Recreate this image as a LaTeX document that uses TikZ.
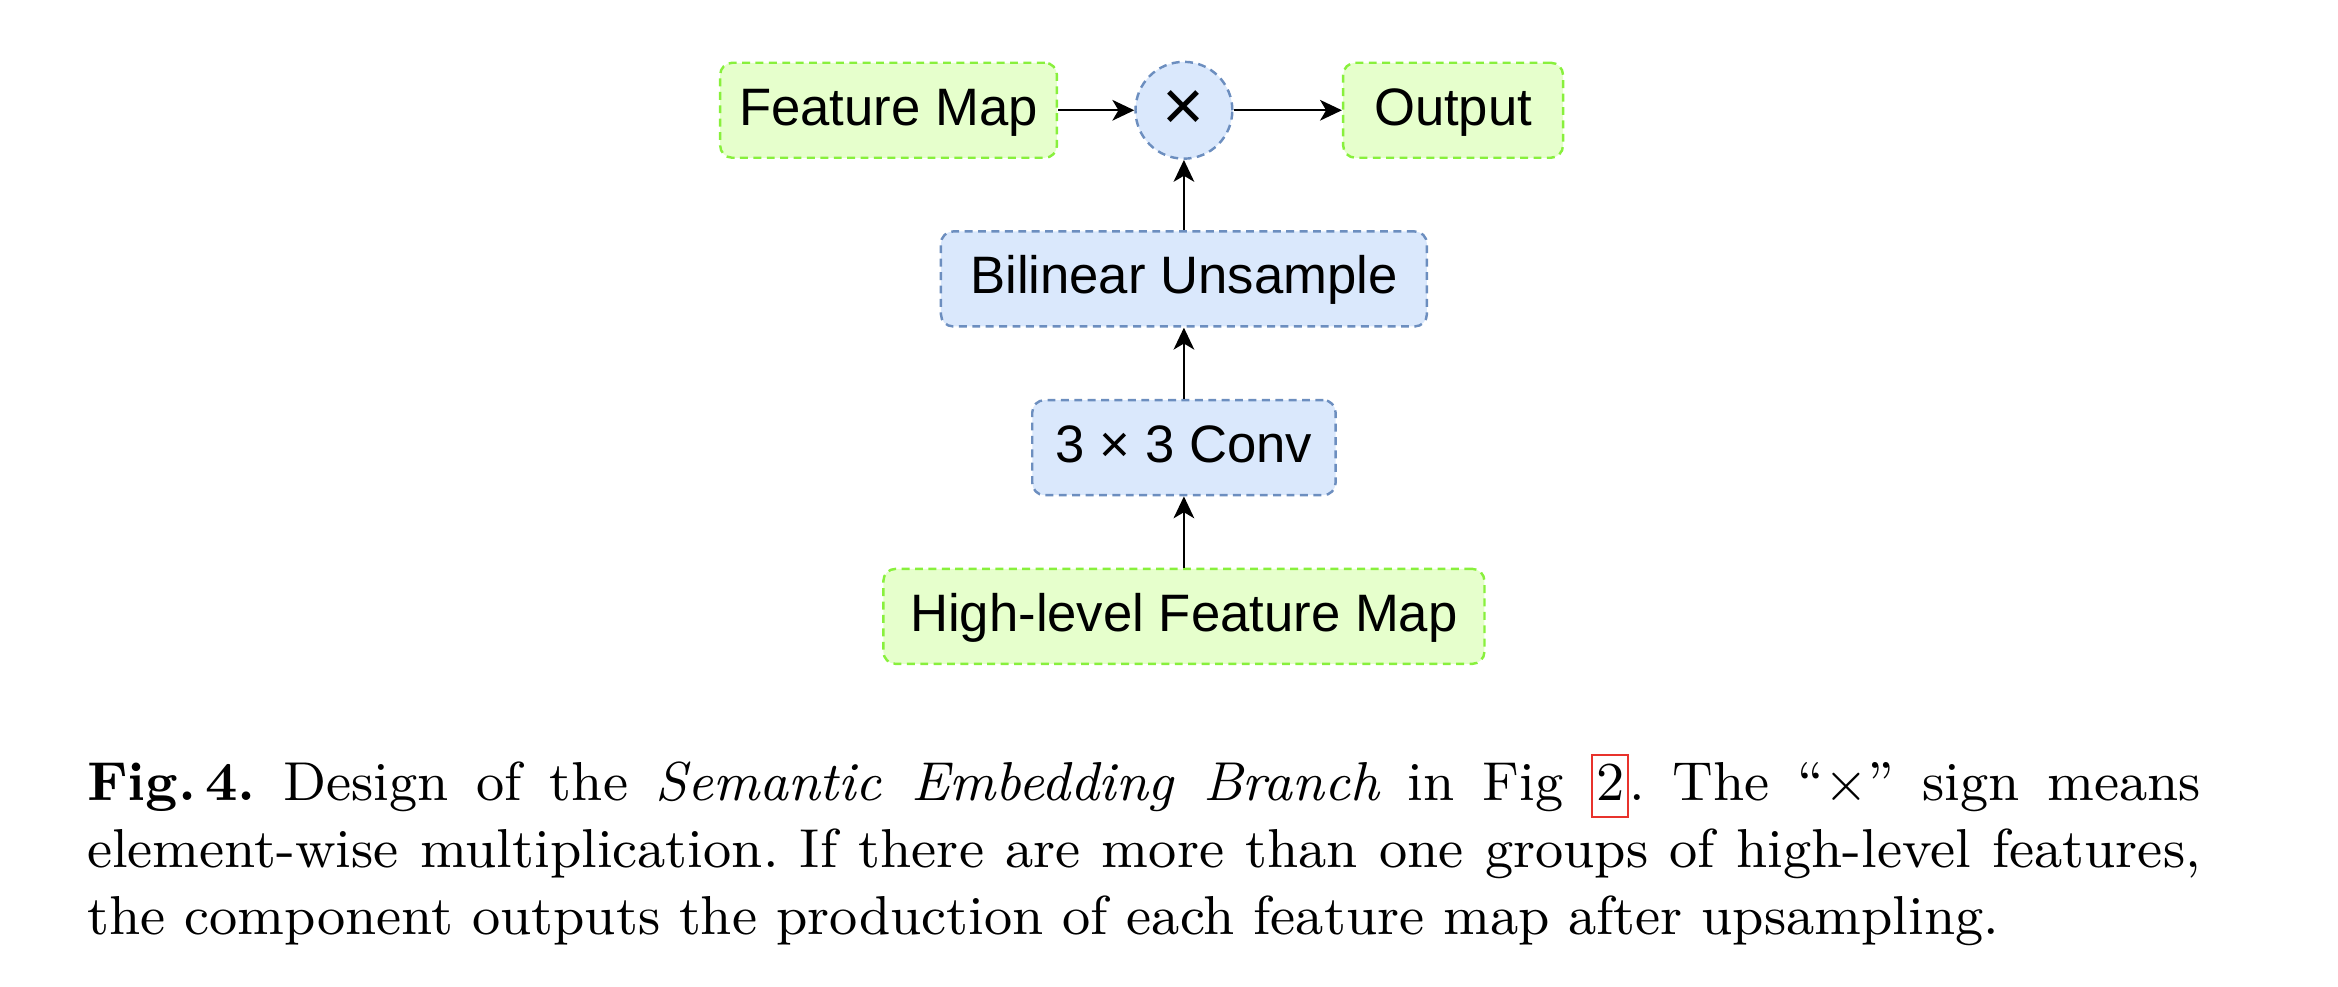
\documentclass[tikz,border=0pt]{standalone}
\usepackage{fontspec}
\newfontfamily\drawfont{Liberation Sans}
\usepackage{xcolor}
\usetikzlibrary{arrows.meta}
\definecolor{grnfill}{HTML}{E6FFCC}
\definecolor{grnline}{HTML}{88F03C}
\definecolor{blufill}{HTML}{DAE8FC}
\definecolor{bluline}{HTML}{6C8EBF}
\definecolor{linkred}{HTML}{E8322C}
\newcommand\linkbox[1]{{\setlength{\fboxsep}{0pt}\setlength{\fboxrule}{0.4pt}%
  \fcolorbox{linkred}{white}{\hspace{0.45pt}\rule[-2.5pt]{0pt}{9.7pt}#1\hspace{0.45pt}}}}

\begin{document}
\begin{tikzpicture}[x=1pt,y=1pt,
  grp/.style n args={2}{draw=#1line,fill=#1fill,rounded corners=2pt,dash pattern=on 1.3pt off 0.9pt,line width=0.4pt,minimum width=#2pt,minimum height=15.6pt,inner sep=0pt,text height=6.4pt,text depth=1.5pt,font=\drawfont\fontsize{8.65}{10}\selectfont},
  op/.style={circle,draw=bluline,fill=blufill,dash pattern=on 1.3pt off 0.9pt,line width=0.4pt,minimum size=15.9pt,inner sep=0pt,font=\drawfont\fontsize{11.8}{12}\selectfont},
  arr/.style={-{Stealth[length=3.6pt,width=3.4pt,inset=1pt]},line width=0.35pt}]
\useasboundingbox (0,0) rectangle (383.9,-161.9);
\node[grp={grn}{55.3}] (fmap) at (145.9,-18.1) {Feature Map};
\node[op] (mult) at (194.4,-18.1) {×};
\node[grp={grn}{36.1}] (out) at (238.6,-18.1) {Output};
\node[grp={blu}{79.8}] (bilin) at (194.4,-45.8) {Bilinear Unsample};
\node[grp={blu}{49.8}] (conv) at (194.4,-73.5) {3 × 3 Conv};
\node[grp={grn}{98.7}] (high) at (194.4,-101.2) {High-level Feature Map};
\draw[arr] (fmap) -- (mult);
\draw[arr] (mult) -- (out);
\foreach \a/\b in {high/conv,conv/bilin,bilin/mult}
  \draw[arr] (\a) -- (\b);
\node[anchor=base west,inner sep=0pt] (cap) at (14.1,-131.4) {\parbox[t]{347.1pt}{\fontsize{9}{11}\selectfont\frenchspacing\noindent
  \textbf{Fig.\thinspace 4.} Design of the \emph{Semantic Embedding Branch} in Fig \linkbox{2}. The “$\times$” sign means\linebreak
  element-wise multiplication. If there are more than one groups of high-level features,\linebreak
  the component outputs the production of each feature map after upsampling.}};
\end{tikzpicture}
\end{document}
